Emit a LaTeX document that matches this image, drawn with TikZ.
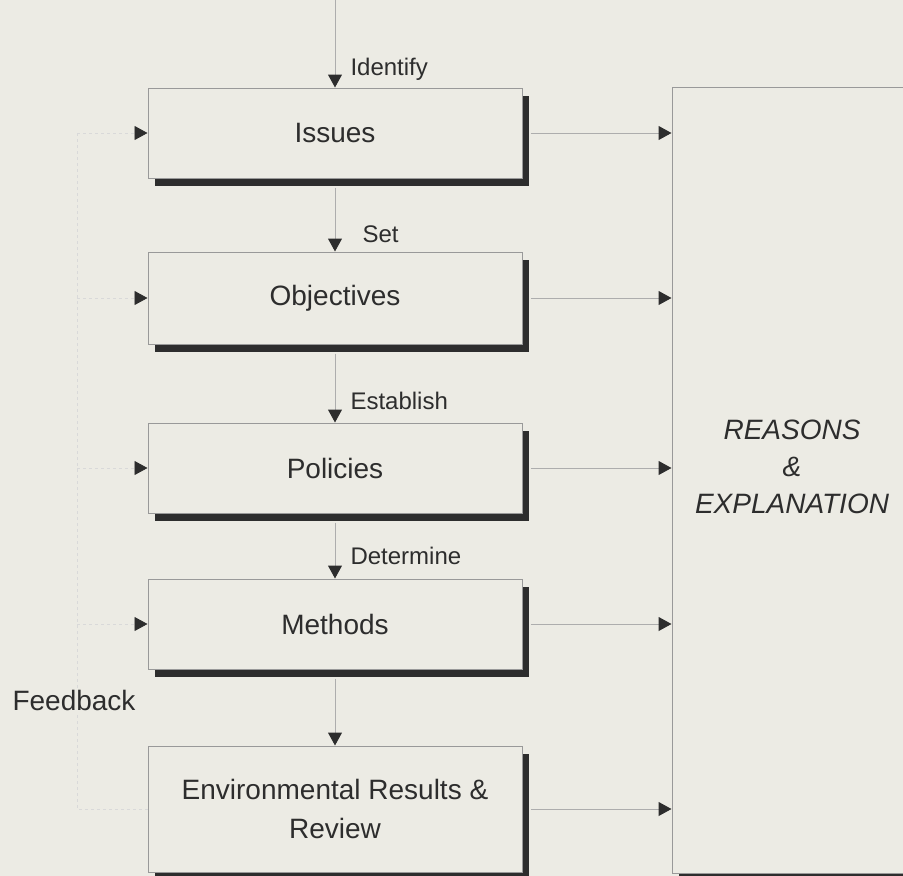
\documentclass[tikz,border=0pt]{standalone}
\usepackage{fontspec}
\setmainfont{Liberation Sans}
\usetikzlibrary{arrows.meta,shadows}
\definecolor{paper}{RGB}{236,235,228}
\definecolor{ink}{RGB}{45,45,45}
\begin{document}
\begin{tikzpicture}[x=1pt,y=-1pt]
\tikzstyle{every node}+=[inner sep=0pt, text=ink]
\tikzstyle{box}=[draw=black!40, line width=1pt, fill=paper, minimum width=374pt,
  align=center, font=\fontsize{28}{39}\selectfont,
  drop shadow={shadow xshift=7pt, shadow yshift=-8pt, fill=ink, opacity=1}]
\tikzstyle{flow}=[draw=black!32, line width=1pt, -{Triangle[length=13pt,width=14pt,color=ink]}]
\tikzstyle{back}=[draw=black!15, line width=0.8pt, dashed]
\tikzstyle{lbl}=[anchor=base west, font=\fontsize{24}{28}\selectfont]
\useasboundingbox (0,0) rectangle (903,876);
\fill [paper] (0,0) rectangle (903,876);
% the five steps
\node [box, minimum height=90pt] (issues) at (335,133) {Issues};
\node [box, minimum height=92pt] (objectives) at (335,298) {Objectives};
\node [box, minimum height=90pt] (policies) at (335,468) {Policies};
\node [box, minimum height=90pt] (methods) at (335,624) {Methods};
\node [box, minimum height=126pt] (results) at (335,809) {Environmental Results \&\\Review};
% reasons column
\node [box, minimum width=240pt, minimum height=786pt] (reasons) at (792,480) {};
\node [align=center, font=\fontsize{28}{37}\selectfont\itshape] (why) at (792,467) {REASONS\\\&\\EXPLANATION};
% down the chain
\coordinate (start) at (335,0);
\draw [flow] (start) -- (issues.north) node [lbl, xshift=15pt, yshift=12pt] {Identify};
\draw [flow] ([yshift=-9pt]issues.south) -- (objectives.north) node [lbl, xshift=27pt, yshift=9pt] {Set};
\draw [flow] ([yshift=-9pt]objectives.south) -- (policies.north) node [lbl, xshift=15pt, yshift=13pt] {Establish};
\draw [flow] ([yshift=-9pt]policies.south) -- (methods.north) node [lbl, xshift=15pt, yshift=14pt] {Determine};
\draw [flow] ([yshift=-9pt]methods.south) -- (results.north);
% across to the reasons
\foreach \step in {issues,objectives,policies,methods,results}
  \draw [flow] ([xshift=8pt]\step.east) -- (\step.east -| reasons.west);
% feedback loop
\coordinate (fbline) at (77,0);
\draw [back] (results.west) -- (results.west -| fbline) -- (issues.west -| fbline);
\foreach \step in {issues,objectives,policies,methods}
  \draw [back, -{Triangle[length=13pt,width=14pt,color=ink]}] (\step.west -| fbline) -- (\step.west);
\node [fill=paper, inner sep=2pt, font=\fontsize{28}{32}\selectfont] (feedback) at (74,700) {Feedback};
\end{tikzpicture}
\end{document}
